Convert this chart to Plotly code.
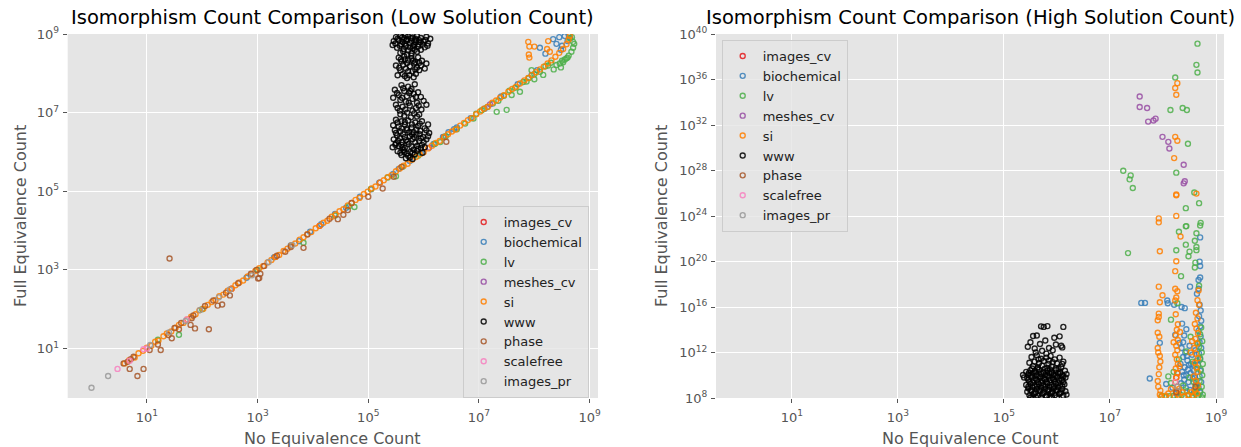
import plotly.graph_objects as go

# ---------------- data (log10 values: (log10 x, log10 y)) -------------
series_names = ["images_cv", "biochemical", "lv", "meshes_cv", "si", "www", "phase", "scalefree", "images_pr"]
series_colors = ["#e41a1c", "#377eb8", "#4daf4a", "#984ea3", "#ff7f00", "#000000", "#a65628", "#f781bf", "#999999"]

x_tick_exponents = [1, 3, 5, 7, 9]
low_y_tick_exponents = [1, 3, 5, 7, 9]
high_y_tick_exponents = [8, 12, 16, 20, 24, 28, 32, 36, 40]

# ---- Low solution count panel ----
low_images_cv = [(2.53, 2.52), (3.32, 3.33), (4.12, 4.12), (5.21, 5.22), (6.37, 6.38)]
low_biochemical = [(2.80, 2.80), (3.30, 3.32), (3.60, 3.62), (3.75, 3.73), (3.95, 3.97), (4.15, 4.16), (4.40, 4.42),
                   (4.60, 4.58), (4.85, 4.86), (5.05, 5.05), (5.20, 5.22), (5.45, 5.44), (5.55, 5.57), (5.75, 5.77),
                   (5.95, 5.96), (6.18, 6.20), (6.35, 6.38), (6.45, 6.50), (6.55, 6.58), (6.60, 6.62), (6.85, 6.86),
                   (7.10, 7.10), (7.40, 7.41), (7.70, 7.72), (7.95, 7.95), (8.05, 8.08), (8.10, 8.65), (8.34, 8.87),
                   (8.40, 8.75), (8.45, 8.92), (8.50, 8.70), (8.55, 8.95), (8.60, 8.82), (8.65, 8.90), (8.20, 8.50),
                   (8.62, 8.98), (8.48, 8.60)]
low_lv = [(1.20, 1.22), (1.58, 1.35), (2.00, 2.00), (3.00, 3.00), (3.83, 3.69), (4.40, 4.38), (4.65, 4.62),
          (4.75, 4.60), (5.05, 5.06), (5.35, 5.35), (5.50, 5.38), (5.62, 5.62), (5.90, 5.90), (6.20, 6.20),
          (6.30, 6.25), (6.40, 6.40), (6.60, 6.58), (6.75, 6.72), (6.90, 6.85), (6.95, 6.97), (7.05, 7.06),
          (7.15, 7.14), (7.25, 7.23), (7.32, 7.02), (7.50, 7.07), (7.35, 7.30), (7.45, 7.43), (7.59, 7.45),
          (7.55, 7.56), (7.65, 7.63), (7.74, 7.53), (7.80, 7.78), (7.86, 7.79), (7.90, 7.88), (7.95, 8.08),
          (8.00, 7.98), (8.00, 7.85), (8.10, 8.04), (8.16, 7.96), (8.20, 8.18), (8.25, 8.20), (8.30, 8.27),
          (8.35, 8.10), (8.40, 8.21), (8.46, 8.25), (8.48, 8.15), (8.50, 8.32), (8.52, 8.28), (8.55, 8.35),
          (8.58, 8.38), (8.60, 8.40), (8.62, 8.45), (8.67, 8.55), (8.70, 8.65), (8.72, 8.75), (8.70, 8.80),
          (8.64, 8.89), (8.68, 8.92)]
low_meshes_cv = [(6.10, 6.11), (7.20, 7.21)]
low_si = [(0.60, 0.62), (0.68, 0.70), (0.78, 0.77), (0.85, 0.88), (0.93, 0.94), (1.00, 1.02), (1.08, 1.07),
          (1.15, 1.17), (1.21, 1.20), (1.30, 1.31), (1.36, 1.38), (1.44, 1.43), (1.52, 1.53), (1.58, 1.60),
          (1.66, 1.65), (1.73, 1.74), (1.80, 1.81), (1.88, 1.87), (1.95, 1.97), (2.02, 2.01), (2.10, 2.11),
          (2.17, 2.18), (2.24, 2.23), (2.31, 2.33), (2.38, 2.37), (2.46, 2.47), (2.53, 2.52), (2.60, 2.61),
          (2.67, 2.68), (2.74, 2.73), (2.82, 2.83), (2.89, 2.88), (2.96, 2.97), (3.03, 3.04), (3.10, 3.09),
          (3.18, 3.19), (3.25, 3.25), (3.32, 3.33), (3.39, 3.38), (3.47, 3.48), (3.54, 3.54), (3.61, 3.62),
          (3.68, 3.67), (3.76, 3.77), (3.83, 3.83), (3.90, 3.91), (3.97, 3.96), (4.05, 4.06), (4.12, 4.12),
          (4.19, 4.20), (4.26, 4.25), (4.34, 4.35), (4.41, 4.41), (4.48, 4.49), (4.55, 4.54), (4.63, 4.64),
          (4.70, 4.70), (4.77, 4.78), (4.84, 4.83), (4.92, 4.93), (4.99, 4.99), (5.06, 5.07), (5.13, 5.12),
          (5.21, 5.22), (5.28, 5.28), (5.35, 5.36), (5.42, 5.41), (5.50, 5.51), (5.57, 5.58), (5.64, 5.65),
          (5.71, 5.70), (5.79, 5.80), (5.86, 5.87), (5.93, 5.94), (6.00, 5.99), (6.08, 6.09), (6.15, 6.16),
          (6.22, 6.23), (6.29, 6.28), (6.37, 6.38), (6.44, 6.45), (6.51, 6.52), (6.58, 6.57), (6.66, 6.67),
          (6.73, 6.74), (6.80, 6.81), (6.87, 6.86), (6.95, 6.96), (7.02, 7.03), (7.09, 7.10), (7.16, 7.15),
          (7.24, 7.25), (7.31, 7.31), (7.38, 7.38), (7.45, 7.44), (7.53, 7.53), (7.60, 7.60), (7.67, 7.66),
          (7.74, 7.74), (7.82, 7.82), (7.89, 7.88), (7.96, 7.96), (8.03, 8.03), (8.10, 8.10), (8.17, 8.17),
          (8.24, 8.25), (8.31, 8.33), (8.38, 8.42), (8.45, 8.52), (8.52, 8.62), (8.58, 8.74), (8.62, 8.86),
          (8.64, 8.95), (7.89, 8.80), (7.91, 8.68), (8.00, 8.68), (7.90, 8.48), (7.91, 8.40), (8.25, 8.82),
          (8.23, 8.62), (8.28, 8.55)]
low_www = [(5.50, 8.92), (5.58, 8.95), (5.65, 8.90), (5.72, 8.94), (5.80, 8.91), (5.88, 8.95), (5.95, 8.90),
           (6.05, 8.93), (6.12, 8.88), (5.46, 8.82), (5.55, 8.85), (5.62, 8.80), (5.70, 8.86), (5.78, 8.83),
           (5.85, 8.79), (5.92, 8.84), (6.00, 8.81), (6.08, 8.76), (5.44, 8.72), (5.60, 8.74), (5.68, 8.70),
           (5.75, 8.77), (5.83, 8.72), (5.90, 8.68), (5.98, 8.73), (5.52, 8.65), (5.64, 8.62), (5.72, 8.58),
           (5.80, 8.64), (5.88, 8.55), (5.95, 8.60), (5.58, 8.52), (5.70, 8.48), (5.78, 8.51), (6.02, 8.66),
           (5.85, 8.88), (5.67, 8.96), (5.75, 8.66),
           (5.53, 8.88), (5.61, 8.91), (5.69, 8.83), (5.77, 8.89), (5.86, 8.84), (5.94, 8.79), (6.03, 8.85),
           (5.49, 8.76), (5.57, 8.70), (5.66, 8.76), (5.81, 8.69), (5.91, 8.74), (6.07, 8.70), (5.63, 8.56),
           (5.84, 8.60),
           (5.55, 8.40), (5.65, 8.43), (5.78, 8.38), (5.90, 8.41), (5.60, 8.30), (5.72, 8.33), (5.85, 8.28),
           (5.97, 8.32), (6.05, 8.25), (5.50, 8.20), (5.63, 8.22), (5.75, 8.18), (5.88, 8.15), (5.95, 8.20),
           (5.58, 8.08), (5.68, 8.12), (5.80, 8.05), (5.92, 8.08), (5.62, 7.98), (5.74, 7.95), (5.86, 7.99),
           (5.70, 7.88), (5.82, 7.90), (5.66, 8.35), (5.83, 8.25), (6.02, 8.12), (5.53, 7.95), (5.78, 8.45),
           (5.59, 8.36), (5.70, 8.26), (5.81, 8.32), (5.92, 8.27), (5.56, 8.14), (5.72, 8.05), (5.85, 8.10),
           (5.66, 7.93),
           (5.60, 7.70), (5.72, 7.66), (5.84, 7.72), (5.48, 7.58), (5.65, 7.55), (5.78, 7.60), (5.90, 7.52),
           (5.55, 7.45), (5.70, 7.42), (5.82, 7.48), (5.95, 7.40), (5.58, 7.32), (5.68, 7.28), (5.80, 7.35),
           (5.88, 7.25), (6.00, 7.30), (5.50, 7.20), (5.62, 7.15), (5.75, 7.18), (5.86, 7.12), (5.96, 7.08),
           (5.57, 7.05), (5.70, 7.00), (5.83, 6.98), (5.92, 6.95), (5.65, 6.92), (5.77, 6.88), (5.45, 7.38),
           (6.05, 7.20), (5.74, 7.50), (5.63, 7.62), (5.76, 7.55), (5.52, 7.50), (5.86, 7.40), (5.61, 7.38),
           (5.73, 7.25), (5.91, 7.18), (5.53, 7.12), (5.80, 7.05), (5.67, 7.08), (5.58, 6.96), (5.88, 6.90),
           (5.50, 6.82), (5.60, 6.78), (5.72, 6.80), (5.85, 6.75), (5.97, 6.78), (6.08, 6.70), (5.45, 6.68),
           (5.55, 6.65), (5.66, 6.70), (5.78, 6.62), (5.90, 6.66), (6.02, 6.60), (5.48, 6.55), (5.58, 6.52),
           (5.70, 6.56), (5.82, 6.50), (5.94, 6.54), (6.10, 6.48), (5.52, 6.42), (5.63, 6.45), (5.75, 6.40),
           (5.87, 6.44), (5.99, 6.38), (5.46, 6.32), (5.57, 6.35), (5.68, 6.30), (5.80, 6.33), (5.92, 6.28),
           (6.05, 6.32), (5.50, 6.22), (5.61, 6.25), (5.73, 6.20), (5.85, 6.24), (5.97, 6.18), (5.44, 6.12),
           (5.55, 6.15), (5.66, 6.10), (5.78, 6.14), (5.90, 6.08), (6.02, 6.12), (5.53, 6.02), (5.64, 6.05),
           (5.76, 6.00), (5.88, 6.03), (5.98, 5.98), (5.60, 5.92), (5.72, 5.90), (5.84, 5.94), (5.68, 5.84),
           (5.80, 5.82), (5.70, 6.60), (5.83, 6.38), (5.60, 6.18), (5.93, 6.45), (5.65, 6.00),
           (5.53, 6.75), (5.66, 6.76), (5.79, 6.70), (5.93, 6.72), (5.60, 6.60), (5.74, 6.50), (5.87, 6.57),
           (6.05, 6.55), (5.50, 6.48), (5.66, 6.38), (5.79, 6.45), (5.95, 6.35), (5.54, 6.28), (5.71, 6.26),
           (5.88, 6.15), (5.49, 6.18), (5.62, 6.12), (5.82, 6.06), (5.95, 6.10), (5.58, 5.98), (5.70, 5.96),
           (5.80, 5.98), (5.75, 5.86), (6.00, 6.25), (6.08, 6.40)]
low_phase = [(0.58, 0.62), (0.69, 0.48), (0.76, 0.79), (0.83, 0.30), (0.94, 0.48), (1.05, 0.96), (1.20, 1.10),
             (1.25, 0.96), (1.39, 1.34), (1.45, 1.26), (1.58, 1.49), (1.79, 1.60), (1.87, 1.51), (2.12, 1.49),
             (1.81, 1.77), (1.84, 1.84), (2.28, 2.09), (2.36, 2.12), (2.50, 2.35), (2.43, 2.42), (2.20, 2.22),
             (2.05, 2.08), (1.62, 1.65), (1.50, 1.52), (0.71, 0.73), (0.65, 0.66), (3.01, 2.78), (2.98, 3.00),
             (3.12, 3.10), (3.03, 2.79), (3.05, 2.90), (3.50, 3.46), (3.83, 3.56), (4.45, 4.29), (4.30, 4.30),
             (4.63, 4.52), (4.55, 4.40), (5.00, 4.86), (5.26, 5.07), (5.46, 5.37), (6.41, 6.26), (1.41, 3.29),
             (2.65, 2.66), (3.35, 3.36), (3.90, 3.90), (4.70, 4.70), (5.60, 5.62), (3.60, 3.58), (2.88, 2.90)]
low_scalefree = [(0.47, 0.48), (0.69, 0.69), (0.94, 0.98), (1.00, 1.00), (1.72, 1.74)]
low_images_pr = [(0.00, 0.00), (0.30, 0.30), (1.06, 1.09), (1.40, 1.41), (1.70, 1.70), (1.96, 1.98), (2.30, 2.30),
                 (2.50, 2.50), (2.90, 2.86), (3.20, 3.20), (3.63, 3.63)]

# ---- High solution count panel ----
high_images_cv = [(8.25, 9.80), (8.27, 10.20)]
high_biochemical = [(8.70, 22.12), (8.69, 19.99), (8.70, 19.60), (8.70, 18.60), (8.67, 18.37), (8.51, 17.79),
                    (7.59, 16.36), (7.66, 16.36), (8.09, 16.33), (8.08, 16.57), (8.35, 16.00), (8.64, 17.17),
                    (8.67, 17.61), (8.36, 14.54), (7.94, 12.85), (8.23, 13.55), (8.31, 12.85), (7.75, 9.72),
                    (8.06, 9.23), (8.21, 16.20), (8.41, 15.90), (8.44, 14.05), (8.40, 13.50), (8.38, 12.90),
                    (8.69, 16.20), (8.71, 15.70), (8.68, 15.20), (8.72, 14.80), (8.70, 14.30), (8.67, 13.90),
                    (8.71, 13.40), (8.69, 12.90), (8.72, 12.40), (8.68, 11.90), (8.70, 11.40), (8.66, 10.90),
                    (8.71, 10.40), (8.69, 9.90), (8.72, 9.40), (8.67, 8.90), (8.70, 8.50),
                    (8.35, 12.40), (8.42, 12.00), (8.50, 12.60), (8.38, 11.60), (8.46, 11.30), (8.55, 11.80),
                    (8.33, 11.00), (8.41, 10.70), (8.49, 10.90), (8.58, 10.40), (8.36, 10.30), (8.44, 10.00),
                    (8.52, 10.20), (8.60, 9.80), (8.40, 9.60), (8.48, 9.40), (8.56, 9.70), (8.62, 9.20),
                    (8.45, 11.70), (8.53, 11.00), (8.39, 10.00), (8.47, 10.50), (8.57, 10.90), (8.34, 9.30),
                    (8.64, 11.30), (8.61, 12.20), (8.43, 8.90), (8.30, 8.60), (8.25, 8.40), (8.18, 8.90),
                    (8.51, 8.70), (8.59, 8.50)]
high_lv = [(8.65, 39.15), (8.63, 37.29), (8.65, 36.61), (8.23, 36.17), (8.14, 33.32), (8.37, 33.50), (8.45, 33.32),
           (8.47, 30.35), (7.25, 27.98), (8.25, 27.81), (7.39, 27.57), (7.37, 27.22), (7.43, 26.46), (8.59, 26.06),
           (8.68, 25.13), (8.43, 24.69), (8.44, 23.11), (8.70, 23.17), (7.34, 20.74), (8.25, 20.99), (8.30, 22.62),
           (8.43, 23.09), (8.71, 23.40), (8.63, 22.48), (8.60, 21.83), (8.43, 21.48), (8.63, 21.28), (8.50, 20.87),
           (8.48, 20.46), (8.63, 21.00), (8.34, 18.71), (8.60, 19.47), (8.61, 19.90), (8.68, 17.87), (8.27, 16.33),
           (8.15, 14.89), (8.52, 13.38), (8.15, 9.32),
           (8.72, 14.20), (8.70, 13.60), (8.74, 13.00), (8.68, 12.50), (8.73, 12.00), (8.70, 11.50), (8.75, 11.00),
           (8.71, 10.50), (8.74, 10.00), (8.69, 9.50), (8.73, 9.00), (8.70, 8.60), (8.75, 8.30), (8.66, 8.20),
           (8.60, 8.40), (8.55, 8.15), (8.48, 8.30), (8.40, 8.10), (8.35, 8.25), (8.28, 8.10), (8.20, 8.20),
           (8.12, 8.15), (8.05, 8.10), (7.98, 8.20), (8.62, 8.90), (8.58, 9.40), (8.45, 8.60), (8.38, 9.10),
           (8.50, 9.80), (8.64, 10.60), (8.56, 11.20), (8.66, 12.80), (8.44, 12.10), (8.30, 11.40), (8.20, 10.30),
           (8.10, 9.90), (8.74, 8.05), (8.65, 8.00)]
high_meshes_cv = [(7.56, 34.51), (7.56, 33.58), (7.70, 33.50), (7.86, 32.56), (7.82, 32.39), (7.72, 32.30),
                  (7.99, 30.96), (8.10, 30.52), (8.12, 29.94), (8.39, 28.50), (8.41, 27.05), (8.39, 26.87)]
high_si = [(8.27, 35.68), (8.23, 35.25), (8.25, 34.66), (8.23, 30.96), (8.27, 30.61), (8.21, 29.09), (8.25, 25.83),
           (8.25, 25.90), (8.63, 25.97), (8.25, 24.01), (7.92, 23.79), (7.92, 23.44), (7.94, 20.90), (8.33, 22.20),
           (8.25, 20.02), (8.23, 19.15), (7.92, 17.79), (8.23, 17.61), (8.27, 17.38), (7.99, 17.03), (7.94, 16.42),
           (8.23, 16.57), (8.25, 16.83), (8.67, 17.45), (7.92, 15.42), (7.92, 15.13), (7.90, 14.83), (8.24, 15.36),
           (8.28, 14.48), (7.90, 13.73), (7.93, 13.38), (7.91, 12.00), (7.94, 11.70), (7.95, 11.21), (7.92, 10.10),
           (7.90, 9.50), (7.95, 8.65), (7.90, 12.40), (7.93, 10.70), (7.91, 9.00), (7.94, 8.30), (7.96, 8.10),
           (8.26, 14.00), (8.24, 13.50), (8.28, 13.10), (8.25, 12.60), (8.27, 12.20), (8.23, 11.80), (8.26, 11.40),
           (8.28, 11.00), (8.24, 10.60), (8.27, 10.20), (8.25, 9.80), (8.23, 9.40), (8.27, 9.00), (8.25, 8.60),
           (8.28, 8.30), (8.22, 8.10), (8.30, 8.80), (8.31, 10.80), (8.20, 12.90), (8.32, 13.80),
           (8.62, 15.50), (8.65, 15.00), (8.60, 14.50), (8.63, 14.10), (8.66, 13.70), (8.61, 13.20), (8.64, 12.80),
           (8.59, 12.40), (8.62, 11.90), (8.66, 11.50), (8.60, 11.10), (8.63, 10.70), (8.65, 10.30), (8.58, 9.90),
           (8.62, 9.50), (8.66, 9.10), (8.60, 8.70), (8.64, 8.40), (8.57, 8.20), (8.53, 8.50), (8.48, 8.25),
           (8.55, 13.00), (8.52, 12.00), (8.68, 16.20), (8.65, 16.60), (8.10, 8.40), (8.15, 8.80), (8.40, 8.15),
           (8.37, 8.50), (8.05, 8.20)]
high_www = [(5.70, 14.30), (5.75, 14.25), (5.82, 14.32), (6.12, 14.25), (5.55, 13.45), (5.62, 13.50), (5.95, 13.30),
            (6.05, 13.42), (5.50, 12.90), (5.68, 12.75), (5.78, 13.05), (5.98, 12.70), (6.08, 12.60), (5.58, 12.35),
            (5.72, 12.15), (5.85, 12.40), (5.92, 12.20), (6.10, 12.45), (5.45, 12.50), (5.60, 12.00), (5.80, 11.90),
            (5.52, 11.60), (5.62, 11.75), (5.70, 11.45), (5.80, 11.55), (5.88, 11.70), (5.96, 11.40), (6.05, 11.55),
            (5.48, 11.10), (5.58, 11.20), (5.66, 11.05), (5.75, 11.25), (5.84, 11.00), (5.92, 11.15), (6.00, 11.05),
            (6.12, 11.20), (5.55, 10.80), (5.64, 10.70), (5.72, 10.85), (5.82, 10.65), (5.90, 10.78), (5.98, 10.60),
            (6.08, 10.72), (5.65, 11.40), (5.85, 11.30), (6.10, 11.00),
            (5.42, 10.30), (5.50, 10.45), (5.58, 10.35), (5.66, 10.48), (5.74, 10.30), (5.82, 10.42), (5.90, 10.32),
            (5.98, 10.45), (6.06, 10.28), (6.15, 10.40), (5.46, 10.05), (5.54, 10.15), (5.62, 10.00), (5.70, 10.12),
            (5.78, 10.02), (5.86, 10.18), (5.94, 10.05), (6.02, 10.15), (6.10, 10.00), (6.18, 10.10), (5.44, 9.75),
            (5.52, 9.85), (5.60, 9.70), (5.68, 9.82), (5.76, 9.72), (5.84, 9.88), (5.92, 9.75), (6.00, 9.85),
            (6.08, 9.70), (6.16, 9.80), (5.48, 9.45), (5.56, 9.55), (5.64, 9.40), (5.72, 9.52), (5.80, 9.42),
            (5.88, 9.58), (5.96, 9.45), (6.04, 9.55), (6.12, 9.40), (5.42, 9.15), (5.50, 9.25), (5.58, 9.10),
            (5.66, 9.22), (5.74, 9.12), (5.82, 9.28), (5.90, 9.15), (5.98, 9.25), (6.06, 9.10), (6.14, 9.20),
            (5.46, 8.85), (5.54, 8.95), (5.62, 8.80), (5.70, 8.92), (5.78, 8.82), (5.86, 8.98), (5.94, 8.85),
            (6.02, 8.95), (6.10, 8.80), (5.44, 8.55), (5.52, 8.65), (5.60, 8.50), (5.68, 8.62), (5.76, 8.52),
            (5.84, 8.68), (5.92, 8.55), (6.00, 8.65), (6.08, 8.50), (6.16, 8.60), (5.48, 8.25), (5.56, 8.35),
            (5.64, 8.20), (5.72, 8.32), (5.80, 8.22), (5.88, 8.38), (5.96, 8.25), (6.04, 8.35), (6.12, 8.20),
            (5.50, 8.05), (5.60, 8.08), (5.70, 8.04), (5.80, 8.10), (5.90, 8.06), (6.00, 8.08), (5.36, 10.02),
            (5.38, 9.80),
            (5.53, 10.60), (5.63, 10.55), (5.77, 10.58), (5.87, 10.50), (6.03, 10.55), (5.47, 10.20), (5.60, 10.25),
            (5.75, 10.20), (5.90, 10.22), (6.06, 10.18), (5.50, 9.95), (5.65, 9.92), (5.81, 9.95), (5.97, 9.95),
            (6.12, 9.90), (5.46, 9.60), (5.62, 9.60), (5.78, 9.62), (5.94, 9.65), (6.10, 9.58), (5.54, 9.35),
            (5.70, 9.32), (5.86, 9.35), (6.02, 9.30), (5.46, 9.00), (5.62, 9.02), (5.78, 9.00), (5.94, 9.02),
            (6.10, 9.05), (5.50, 8.70), (5.66, 8.72), (5.82, 8.75), (5.98, 8.72), (5.58, 8.40), (5.74, 8.42),
            (5.90, 8.45), (6.06, 8.42), (5.54, 8.15), (5.86, 8.15), (6.18, 8.30)]
high_phase = [(8.25, 8.50), (8.61, 8.99)]
high_scalefree = [(8.23, 9.40)]
high_images_pr = [(8.27, 9.00)]

low_series = [low_images_cv, low_biochemical, low_lv, low_meshes_cv, low_si, low_www, low_phase, low_scalefree,
              low_images_pr]
high_series = [high_images_cv, high_biochemical, high_lv, high_meshes_cv, high_si, high_www, high_phase,
               high_scalefree, high_images_pr]

# ---------------- figure ----------------
W, H = 1241, 447
FONT = "DejaVu Sans"
TICK_COL = "#555555"

fig = go.Figure()


def add_panel(series, xa, ya, legend_name):
    for name, col, pts in zip(series_names, series_colors, series):
        fig.add_trace(go.Scatter(
            x=[10.0 ** p[0] for p in pts],
            y=[10.0 ** p[1] for p in pts],
            mode="markers",
            name=name,
            xaxis=xa, yaxis=ya,
            legend=legend_name,
            marker=dict(symbol="circle-open", size=5, color=col, opacity=0.85,
                        line=dict(width=1.4, color=col)),
        ))


add_panel(low_series, "x", "y", "legend")
add_panel(high_series, "x2", "y2", "legend2")


def power_ticks(exps):
    return dict(tickmode="array", tickvals=[10.0 ** e for e in exps],
                ticktext=["10<sup>%d</sup>" % e for e in exps])


# axes pixel geometry
L1, R1 = 67.7, 598.0
L2, R2 = 716.0, 1224.0
TOP, BOT = 34.0, 398.0
ydom = [(H - BOT) / H, (H - TOP) / H]

common = dict(type="log", showgrid=True, gridcolor="white", gridwidth=1.2, zeroline=False, showline=False,
              ticks="outside", ticklen=4, tickcolor=TICK_COL, tickwidth=1,
              tickfont=dict(family=FONT, size=13, color=TICK_COL),
              automargin=False, layer="below traces")

fig.update_layout(
    width=W, height=H, template="none",
    margin=dict(l=0, r=0, t=0, b=0, pad=0),
    paper_bgcolor="white", plot_bgcolor="#E5E5E5",
    font=dict(family=FONT, color="#222222"),
    xaxis=dict(common, domain=[L1 / W, R1 / W], range=[-0.43, 9.15], anchor="y", ticklabelstandoff=3,
               **power_ticks(x_tick_exponents)),
    yaxis=dict(common, domain=ydom, range=[-0.26, 9.0], anchor="x", ticklabelstandoff=1,
               **power_ticks(low_y_tick_exponents)),
    xaxis2=dict(common, domain=[L2 / W, R2 / W], range=[-0.43, 9.15], anchor="y2", ticklabelstandoff=3,
                **power_ticks(x_tick_exponents)),
    yaxis2=dict(common, domain=ydom, range=[8, 40], anchor="x2", ticklabelstandoff=1,
                **power_ticks(high_y_tick_exponents)),
    showlegend=True,
    legend=dict(x=462.7 / W, y=1 - 206 / H, xanchor="left", yanchor="top",
                bgcolor="rgba(229,229,229,0.8)", bordercolor="#cccccc", borderwidth=1,
                font=dict(family=FONT, size=13, color="#222222")),
    legend2=dict(x=721.7 / W, y=1 - 40 / H, xanchor="left", yanchor="top",
                 bgcolor="rgba(229,229,229,0.8)", bordercolor="#cccccc", borderwidth=1,
                 font=dict(family=FONT, size=13, color="#222222")),
)

annots = [
    dict(text="Isomorphism Count Comparison (Low Solution Count)", x=(L1 + R1) / 2 / W, y=1 - 18 / H,
         font=dict(size=19.5, color="black")),
    dict(text="Isomorphism Count Comparison (High Solution Count)", x=(L2 + R2) / 2 / W, y=1 - 18 / H,
         font=dict(size=19.5, color="black")),
    dict(text="No Equivalence Count", x=(L1 + R1) / 2 / W, y=1 - 438 / H, font=dict(size=16, color=TICK_COL)),
    dict(text="No Equivalence Count", x=(L2 + R2) / 2 / W, y=1 - 438 / H, font=dict(size=16, color=TICK_COL)),
    dict(text="Full Equivalence Count", x=20 / W, y=1 - (TOP + BOT) / 2 / H, textangle=-90,
         font=dict(size=16, color=TICK_COL)),
    dict(text="Full Equivalence Count", x=661 / W, y=1 - (TOP + BOT) / 2 / H, textangle=-90,
         font=dict(size=16, color=TICK_COL)),
]
for a in annots:
    fig.add_annotation(xref="paper", yref="paper", xanchor="center", yanchor="middle", showarrow=False,
                       font_family=FONT, **a)

fig.write_html("out.html")
